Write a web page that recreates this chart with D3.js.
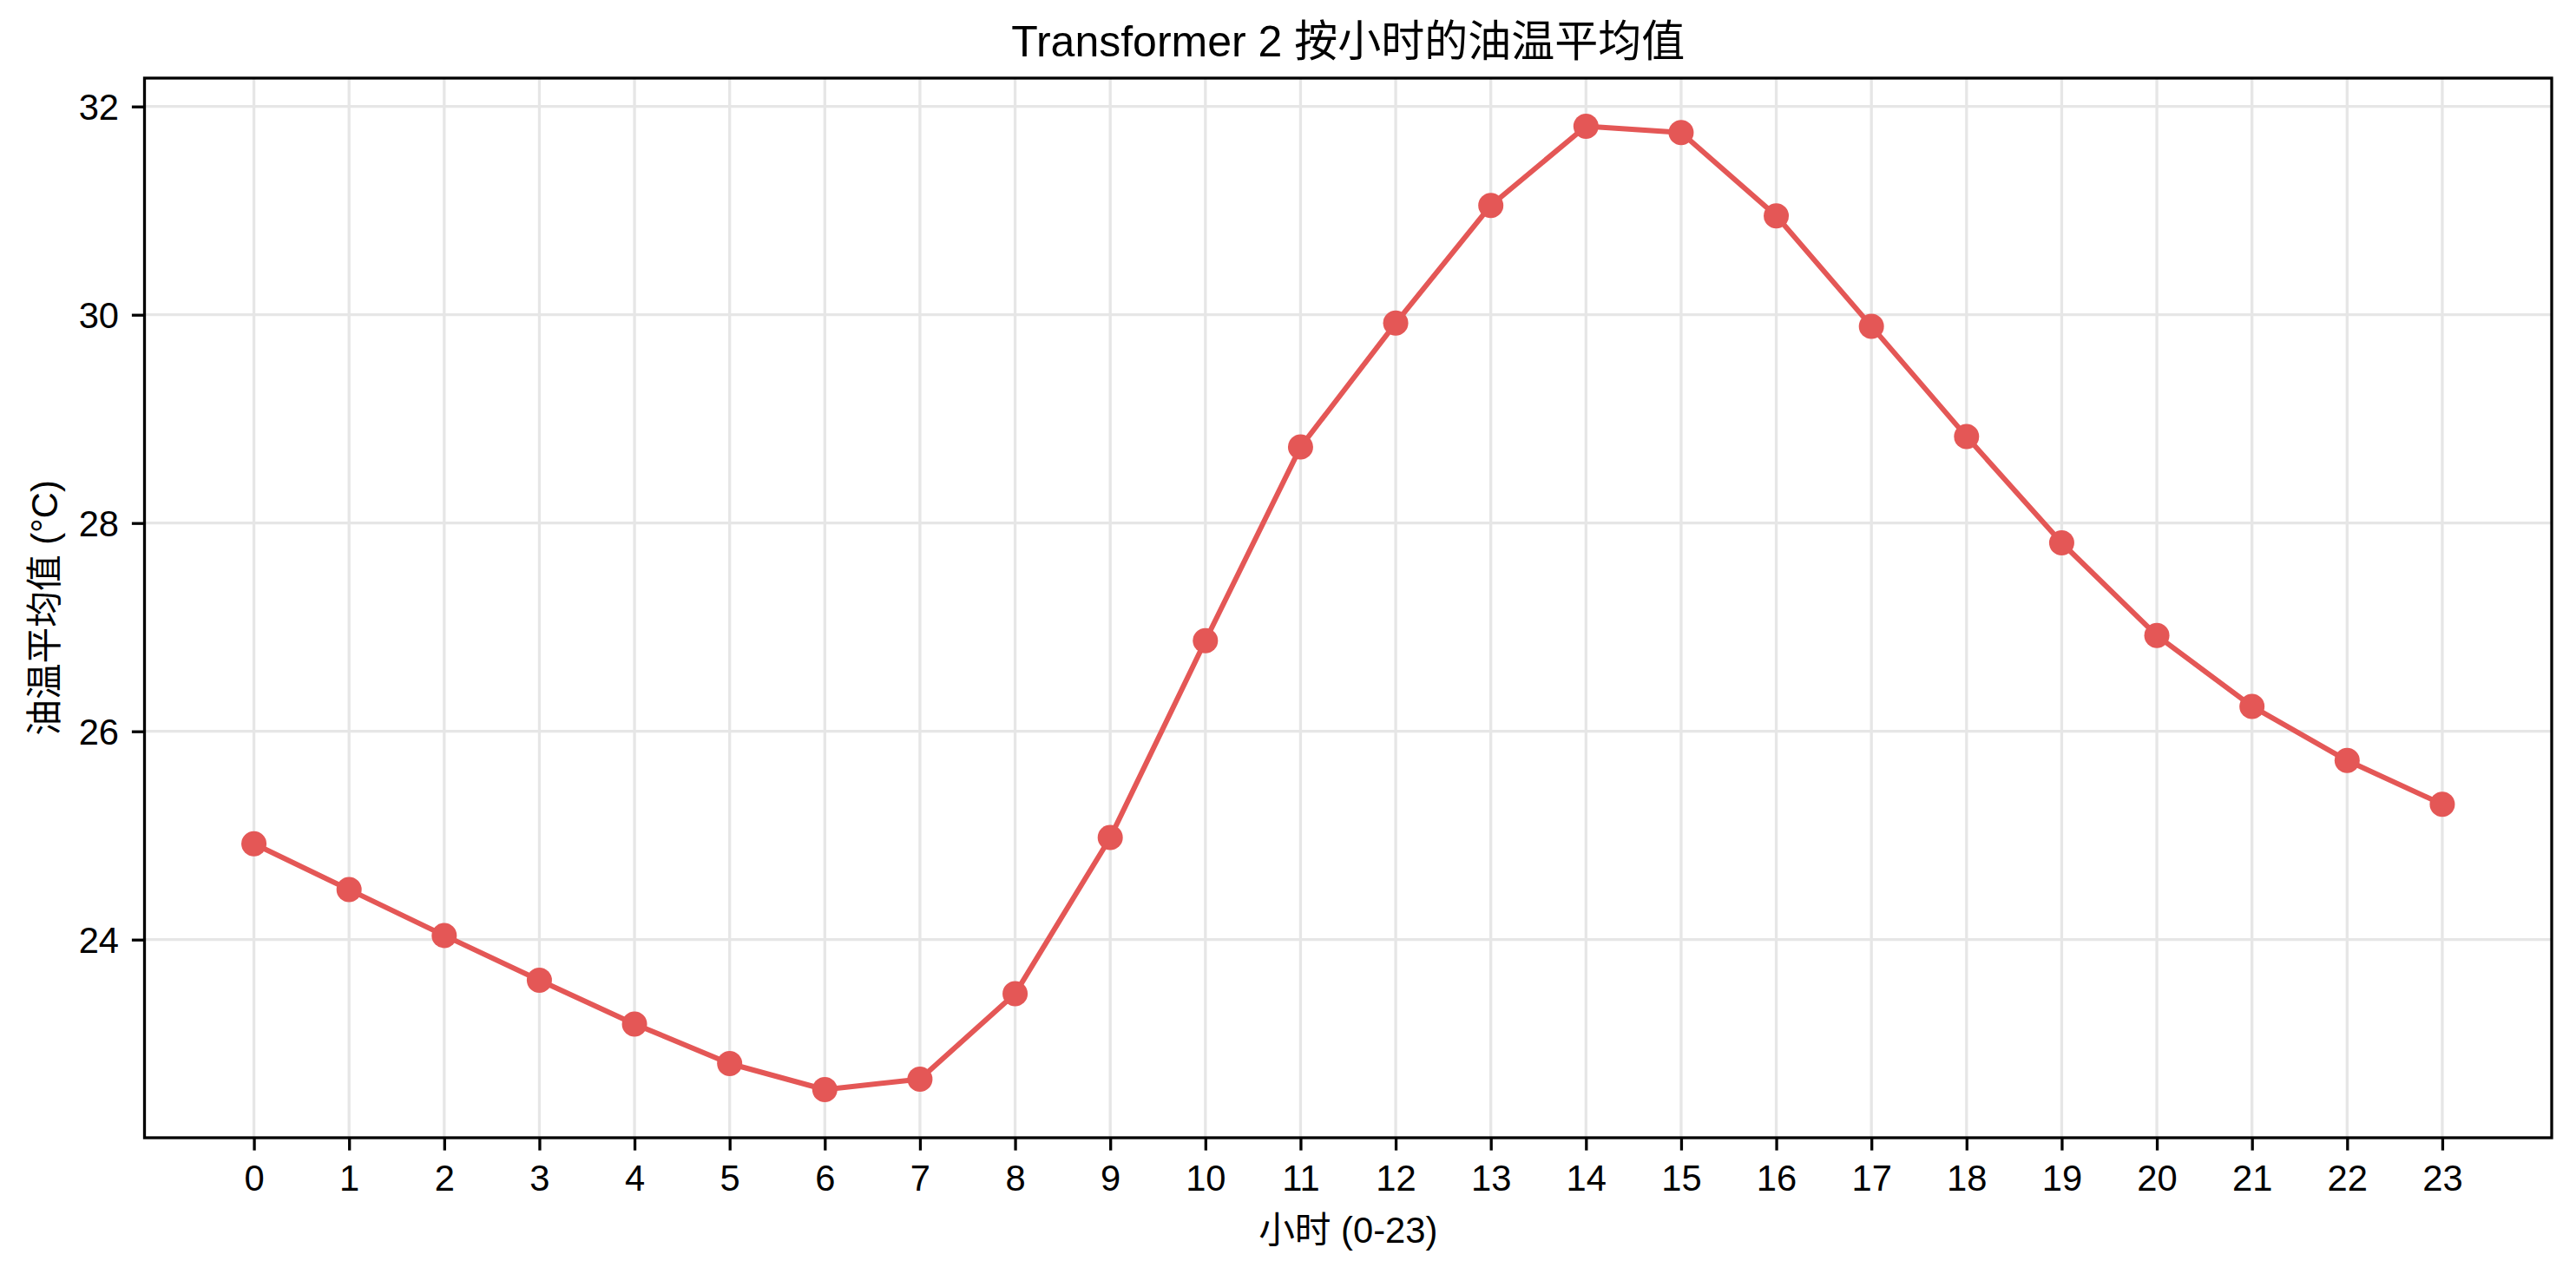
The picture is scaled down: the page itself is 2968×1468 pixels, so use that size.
<!DOCTYPE html>
<html>
<head>
<meta charset="utf-8">
<script src="https://cdn.jsdelivr.net/npm/d3@7"></script>
<style>
  html, body { margin: 0; padding: 0; background: #fff; }
  svg { display: block; }
  text { font-family: "Liberation Sans", Arial, "Noto Sans CJK SC", sans-serif; fill: #000; }
</style>
</head>
<body>
<svg id="chart" width="2968" height="1468"></svg>
<script>
const hours = [0,1,2,3,4,5,6,7,8,9,10,11,12,13,14,15,16,17,18,19,20,21,22,23];
const oilTemp = [24.92,24.48,24.04,23.61,23.19,22.81,22.56,22.66,23.48,24.98,26.87,28.73,29.92,31.05,31.81,31.75,30.95,29.89,28.83,27.81,26.92,26.24,25.72,25.30];
const yTicks = [24,26,28,30,32];
const titleText = "Transformer 2 按小时的油温平均值";
const xLabelText = "小时 (0-23)";
const yLabelText = "油温平均值 (°C)";

const W = 2968, H = 1468;
const m = {left: 166.5, right: 2940, top: 90, bottom: 1311};
const svg = d3.select("#chart");

const xPad = (d3.max(hours) - d3.min(hours)) * 0.05;
const x = d3.scaleLinear()
  .domain([d3.min(hours) - xPad, d3.max(hours) + xPad])
  .range([m.left, m.right]);
const yExt = d3.extent(oilTemp);
const yPad = (yExt[1] - yExt[0]) * 0.05;
const y = d3.scaleLinear()
  .domain([yExt[0] - yPad, yExt[1] + yPad])
  .range([m.bottom, m.top]);

const fs = 41.7;
const gridColor = "#e6e6e6";

// grid
svg.append("g").selectAll("line").data(hours).join("line")
  .attr("x1", d => x(d)).attr("x2", d => x(d))
  .attr("y1", m.top).attr("y2", m.bottom)
  .attr("stroke", gridColor).attr("stroke-width", 3.3);
svg.append("g").selectAll("line").data(yTicks).join("line")
  .attr("x1", m.left).attr("x2", m.right)
  .attr("y1", d => y(d)).attr("y2", d => y(d))
  .attr("stroke", gridColor).attr("stroke-width", 3.3);

// axes
const xAxis = d3.axisBottom(x).tickValues(hours).tickFormat(d3.format("d"))
  .tickSize(14.6).tickPadding(0).tickSizeOuter(0);
const gx = svg.append("g").attr("transform", `translate(0,${m.bottom})`).call(xAxis);
gx.select(".domain").remove();
gx.selectAll(".tick line").attr("stroke", "#000").attr("stroke-width", 3.3);
gx.selectAll(".tick text")
  .attr("font-size", fs)
  .attr("font-family", null)
  .attr("dy", null)
  .attr("y", 1372 - m.bottom);

const yAxis = d3.axisLeft(y).tickValues(yTicks).tickFormat(d3.format("d"))
  .tickSize(14.6).tickPadding(0).tickSizeOuter(0);
const gy = svg.append("g").attr("transform", `translate(${m.left},0)`).call(yAxis);
gy.select(".domain").remove();
gy.selectAll(".tick line").attr("stroke", "#000").attr("stroke-width", 3.3);
gy.selectAll(".tick text")
  .attr("font-size", fs)
  .attr("font-family", null)
  .attr("x", -29.5)
  .attr("dy", "0.35em");

// line + markers
const lineColor = "#e45756";
const pts = hours.map((h, i) => [h, oilTemp[i]]);
svg.append("path")
  .datum(pts)
  .attr("fill", "none")
  .attr("stroke", lineColor)
  .attr("stroke-width", 6)
  .attr("stroke-linejoin", "round")
  .attr("d", d3.line().x(d => x(d[0])).y(d => y(d[1])));
svg.append("g").selectAll("circle").data(pts).join("circle")
  .attr("cx", d => x(d[0])).attr("cy", d => y(d[1]))
  .attr("r", 14.5).attr("fill", lineColor);

// frame
svg.append("rect")
  .attr("x", m.left).attr("y", m.top)
  .attr("width", m.right - m.left).attr("height", m.bottom - m.top)
  .attr("fill", "none").attr("stroke", "#000").attr("stroke-width", 3.3);

// titles
svg.append("text")
  .attr("x", (m.left + m.right) / 2).attr("y", 65)
  .attr("text-anchor", "middle").attr("font-size", 50)
  .text(titleText);
svg.append("text")
  .attr("x", (m.left + m.right) / 2).attr("y", 1432)
  .attr("text-anchor", "middle").attr("font-size", fs)
  .text(xLabelText);
svg.append("text")
  .attr("transform", `translate(66,${(m.top + m.bottom) / 2}) rotate(-90)`)
  .attr("text-anchor", "middle").attr("font-size", fs)
  .text(yLabelText);
</script>
</body>
</html>
